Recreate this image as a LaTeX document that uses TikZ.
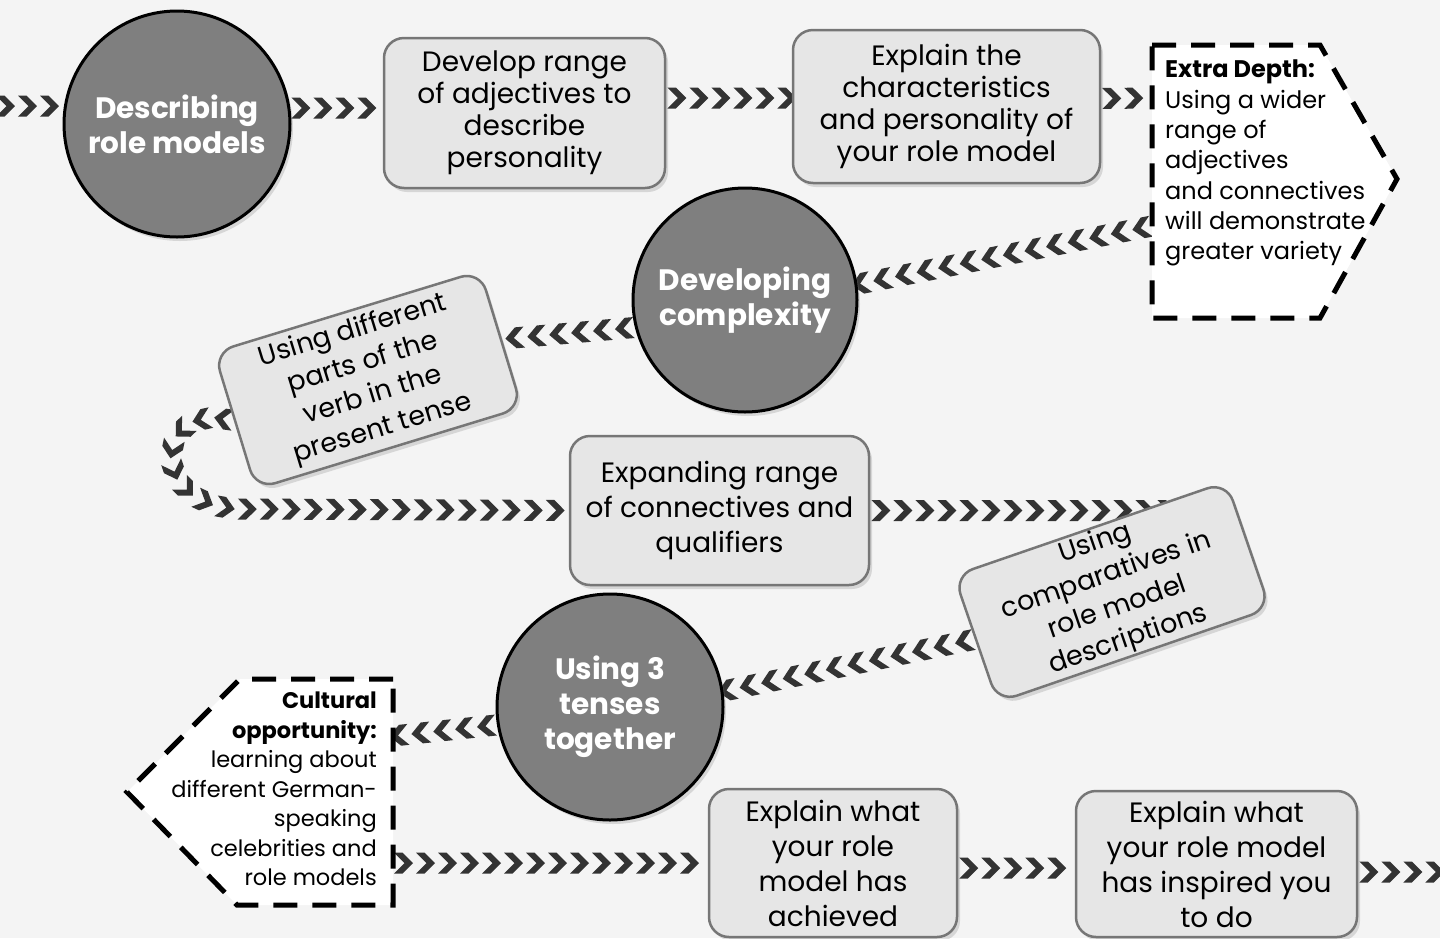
\documentclass[tikz,border=0pt]{standalone}
\usepackage{fontspec}
\setmainfont{Poppins}
\usetikzlibrary{decorations.markings,shadows}
\definecolor{bgc}{HTML}{F4F4F4}
\definecolor{circfill}{HTML}{7F7F7F}
\definecolor{boxfill}{HTML}{E6E6E6}
\definecolor{boxline}{HTML}{767676}
\definecolor{chevc}{HTML}{333333}
\pgfdeclarelayer{background}
\pgfdeclarelayer{links}
\pgfsetlayers{background,links,main}
\tikzset{
  circ/.style={circle, draw=black, line width=3pt, fill=circfill, minimum size=226pt,
    inner sep=0pt, text=white, font=\bfseries\fontsize{29.5}{35}\selectfont, align=center,
    drop shadow={opacity=0.25, shadow xshift=3pt, shadow yshift=-4pt}},
  rbox/.style={rectangle, rounded corners=20pt, draw=boxline, line width=2.5pt, fill=boxfill,
    font=\fontsize{28}{32}\selectfont, align=center, inner sep=0pt,
    drop shadow={opacity=0.25, shadow xshift=3pt, shadow yshift=-4pt}},
  wide/.style={font=\fontsize{28}{35}\selectfont},
  tilted/.style={font=\fontsize{27}{34}\selectfont},
  chev/.style={decoration={markings, mark=between positions 10pt and 1 step 22pt with
    {\fill[chevc] (-9pt,10.5pt) -- (1.5pt,0pt) -- (-9pt,-10.5pt) -- (-0.5pt,-10.5pt) -- (10pt,0pt) -- (-0.5pt,10.5pt) -- cycle;}},
    decorate},
  dashbox/.style={draw=black, line width=5pt, dash pattern=on 24pt off 15pt, fill=white},
  dtext/.style={inner sep=0pt, font=\fontsize{22.5}{29.5}\selectfont},
}
\begin{document}
\begin{tikzpicture}[x=1pt,y=-1pt]
\useasboundingbox (0,0) rectangle (1440,938);
\begin{pgfonlayer}{background}
\fill[bgc] (0,0) rectangle (1440,938);
\end{pgfonlayer}

% main nodes
\node[circ] (c1) at (177,124) {Describing\\role models};
\node[rbox, minimum width=281pt, minimum height=150pt] (b2) at (524.5,113)
  {Develop range\\of adjectives to\\describe\\personality};
\node[rbox, minimum width=307pt, minimum height=153pt] (b3) at (946.5,106.5)
  {Explain the\\characteristics\\and personality of\\your role model};
\node[circ, minimum size=224pt] (c2) at (745,300) {Developing\\complexity};
\node[rbox, tilted, minimum width=278pt, minimum height=143pt, rotate=17] (b6) at (368,380)
  {Using different\\parts of the\\verb in the\\present tense};
\node[rbox, wide, minimum width=299pt, minimum height=149pt] (b7) at (719.5,510.5)
  {Expanding range\\of connectives and\\qualifiers};
\node[rbox, tilted, minimum width=288pt, minimum height=134pt, rotate=19] (b8) at (1112,592)
  {Using\\comparatives in\\role model\\descriptions};
\node[circ] (c3) at (610,707) {Using 3\\tenses\\together};
\node[rbox, wide, minimum width=248pt, minimum height=148pt] (b11) at (833,863)
  {Explain what\\your role\\model has\\achieved};
\node[rbox, wide, minimum width=281pt, minimum height=146pt] (b12) at (1216.5,864)
  {Explain what\\your role model\\has inspired you\\to do};

% Extra depth dashed box
\draw[dashbox] (1152,45) -- (1320,45) -- (1397,179) -- (1320,318) -- (1152,318) -- cycle;
\node[dtext, font=\fontsize{24}{30.3}\selectfont, anchor=north west, align=left] (ed) at (1165,60)
  {\textbf{Extra Depth:}\\Using a wider\\range of\\adjectives\\and connectives\\will demonstrate\\greater variety};
\coordinate (edw1) at (1152,98);
\coordinate (edw2) at (1152,226);

% Cultural opportunity dashed box
\draw[dashbox] (393,679) -- (240,679) -- (127,792) -- (237,905) -- (393,905) -- cycle;
\node[dtext, anchor=north east, align=right] (cu) at (377,692)
  {\textbf{Cultural}\\\textbf{opportunity:}\\learning about\\different German-\\speaking\\celebrities and\\role models};
\coordinate (cue1) at (393,736);
\coordinate (cue2) at (393,863);

\coordinate (start) at (-5,106);
\coordinate (finish) at (1450,872);

% connectors
\begin{pgfonlayer}{links}
\path[chev] (start) -- (c1.171);
\path[chev] (c1.8) -- (c1.8 -| b2.west);
\path[chev] ([yshift=15pt]b2.east) -- ([yshift=15pt]b2.east -| b3.west);
\path[chev] ([yshift=8pt]b3.east) -- (edw1);
\path[chev] (edw2) -- (c2.8);
\path[chev] (c2.194) -- (b6.east);
\path[chev] (b6.west) .. controls (155,400) and (145,505) .. (240,509) -- (b7.west);
\path[chev] (b7.east) -- (b7.east -| b8.north east);
\path[chev] (b8.west) -- (c3.8);
\path[chev] (c3.189) -- (cue1);
\path[chev] (cue2) -- (b11.west);
\path[chev] ([yshift=-5pt]b11.east) -- ([yshift=-5pt]b11.east -| b12.west);
\path[chev] ([yshift=-8pt]b12.east) -- (finish);
\end{pgfonlayer}
\end{tikzpicture}
\end{document}
